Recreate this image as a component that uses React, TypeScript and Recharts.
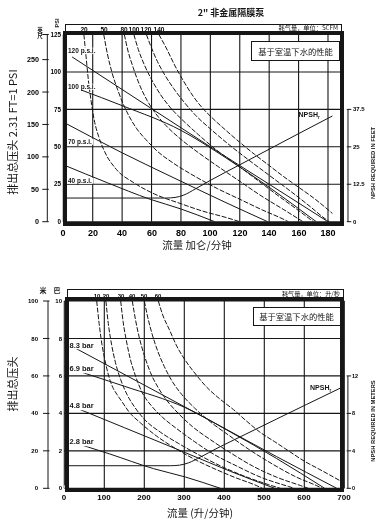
import React from "react";
import {
  ComposedChart,
  Line,
  XAxis,
  YAxis,
  CartesianGrid,
  ReferenceLine,
} from "recharts";

type Pt = [number, number];

// ---------- top panel: flow in US gpm, head in psi ----------
const gpmTicks = [0, 20, 40, 60, 80, 100, 120, 140, 160, 180];
const psiTicks = [0, 25, 50, 75, 100, 125];
const feetTicks = [0, 50, 100, 150, 200, 250, 288.75];
const npshFeetTicks = [0, 12.5, 25, 37.5];
const scfmLabels = ["20", "50", "80", "100", "120", "140"];

const psi120: Pt[] = [[6, 110], [60, 75.5], [100, 50], [140, 25], [180, 0]];
const psi100: Pt[] = [[12, 88], [40, 77.5], [80, 61], [110, 43], [140, 23], [172, 0]];
const psi70: Pt[] = [[0, 66.5], [40, 46], [80, 27], [110, 13], [139, 0]];
const psi40: Pt[] = [[0, 38], [30, 26], [59, 15], [80, 8.5], [103, 0]];

const scfm20: Pt[] = [[14, 125], [15.5, 110], [17, 95], [19, 80], [21, 68], [24, 57], [28, 47], [36, 35], [48, 26], [62, 18.5], [80, 12], [95, 7], [110, 3], [120, 0]];
const scfm50: Pt[] = [[27.5, 125], [30, 112], [33, 100], [37, 88], [41, 78], [45, 70], [50, 62], [56, 55], [64, 47], [75, 39], [90, 30], [105, 22], [120, 15], [135, 8], [150, 1.5], [153, 0]];
const scfm80: Pt[] = [[41.5, 125], [44, 114], [47.5, 103], [52, 91], [57, 81], [63, 72], [70, 64], [80, 55], [92, 46], [105, 37], [120, 27], [135, 17], [150, 8], [163, 0]];
const scfm100: Pt[] = [[48, 125], [51, 115], [55, 105], [60, 95], [66, 85], [73, 76], [82, 67], [92, 58], [104, 48], [118, 38], [133, 27], [148, 16], [162, 6], [170, 0]];
const scfm120: Pt[] = [[56.5, 125], [60, 116], [64, 107], [69, 98], [75, 89], [82, 80], [90, 71], [100, 62], [112, 52], [125, 42], [140, 31], [155, 20], [168, 10], [178, 2], [181, 0]];
const scfm140: Pt[] = [[65, 125], [70, 116], [76, 104], [82, 93.5], [88.5, 83.5], [95, 75.5], [100, 70.5], [110, 61.5], [120, 53], [130, 45], [140, 37.5], [150, 30], [160, 23], [170, 16], [183, 5.5]];

const npshFeet: Pt[] = [[0, 7.9], [70, 7.9], [76, 8.1], [82, 8.9], [90, 11], [100, 13.8], [120, 19], [140, 24.2], [160, 29.4], [183, 35.3]];

// ---------- bottom panel: flow in l/min, head in metres ----------
const lpmTicks = [0, 100, 200, 300, 400, 500, 600, 700];
const meterTicks = [0, 20, 40, 60, 80, 100];
const barTicks = [0, 2, 4, 6, 8, 10];
const npshMeterTicks = [0, 4, 8, 12];
const lpsLabels = ["10", "20", "30", "40", "50", "60"];

const bar83: Pt[] = [[0, 78], [227, 52], [379, 34.5], [530, 17], [681, 0]];
const bar69: Pt[] = [[0, 65], [50, 61.5], [150, 54.5], [303, 43], [416, 30], [530, 16], [651, 0]];
const bar48: Pt[] = [[0, 45.5], [151, 32.3], [303, 19], [416, 9], [526, 0]];
const bar28: Pt[] = [[0, 26], [114, 18.3], [223, 10.5], [303, 6], [390, 0]];

const lps10: Pt[] = [[81, 100], [87, 88], [94, 77], [102, 68], [111, 60], [121, 54], [132, 50], [145, 46], [161, 41], [190, 35], [230, 28], [280, 21], [330, 15], [380, 10], [430, 5.5], [480, 1.5], [495, 0]];
const lps20: Pt[] = [[104, 100], [110, 88], [118, 77], [128, 67], [141, 58], [157, 50], [177, 43], [204, 36], [240, 30], [285, 24], [335, 18], [390, 12], [450, 6.5], [510, 2], [540, 0]];
const lps30: Pt[] = [[141, 100], [147, 89], [155, 79], [165, 69], [178, 60], [195, 51], [218, 44], [245, 38], [280, 32], [325, 25], [375, 18], [430, 12], [490, 6], [560, 1], [575, 0]];
const lps40: Pt[] = [[170, 100], [178, 90], [188, 80], [200, 71], [215, 62], [234, 54], [256, 47], [285, 40], [320, 33], [365, 26], [415, 19], [470, 12], [530, 6], [590, 1.5], [610, 0]];
const lps50: Pt[] = [[200, 100], [209, 91], [220, 82], [234, 73], [250, 65], [270, 57], [294, 50], [325, 43], [365, 35.5], [410, 28.5], [460, 21], [520, 13], [580, 6], [630, 1.5], [645, 0]];
const lps60: Pt[] = [[235, 100], [247, 92], [262, 85], [281, 76], [302, 68.5], [330, 60.5], [356, 54], [390, 47.5], [423, 42], [455, 36], [489, 30], [525, 25], [564, 19.5], [600, 14.5], [639, 10], [690, 4]];

const npshMeters: Pt[] = [[0, 2.41], [265, 2.41], [288, 2.47], [310, 2.71], [341, 3.35], [379, 4.21], [454, 5.79], [530, 7.38], [606, 8.96], [693, 10.76]];

const FONT = '"Liberation Sans", Arial, sans-serif';
const CJK = '"Noto Sans CJK SC", "Liberation Sans", sans-serif';
const INK = "#161616";

const pts = (a: Pt[]) => a.map(([x, y]) => ({ x, y }));
const anchorPoint = [{ x: 0, y: 0 }];

const topPressure = [psi120, psi100, psi70, psi40];
const topAir = [scfm20, scfm50, scfm80, scfm100, scfm120, scfm140];
const botPressure = [bar83, bar69, bar48, bar28];
const botAir = [lps10, lps20, lps30, lps40, lps50, lps60];

const labelProps = {
  fontWeight: 700,
  fontFamily: FONT,
  fill: "#000",
  stroke: "none",
};

// plain tick label
function mkTick(size: number, anchor: "start" | "middle" | "end", dyEm: number, fmt?: (v: number, i: number) => string) {
  return function Tick(p: any) {
    const label = fmt ? fmt(p.payload.value, p.index) : String(p.payload.value);
    return (
      <text x={Math.round(p.x)} y={p.y} dy={`${dyEm}em`} textAnchor={anchor} fontSize={size} {...labelProps}>
        {label}
      </text>
    );
  };
}

// left outer axis: short tick across the axis line plus label
function mkOuterTick(size: number, gap: number, maxLabel: number) {
  return function OuterTick(p: any) {
    const v = p.payload.value as number;
    return (
      <g>
        <line x1={p.x - 5} x2={p.x + 1.5} y1={p.y} y2={p.y} stroke={INK} strokeWidth={1} />
        {v <= maxLabel && (
          <text x={Math.round(p.x - gap)} y={p.y} dy="0.35em" textAnchor="end" fontSize={size} {...labelProps}>
            {String(v)}
          </text>
        )}
      </g>
    );
  };
}

// right NPSH axis tick plus label
function mkNpshTick(lineDx: number, textDx: number, size: number) {
  return function NpshTick(p: any) {
    return (
      <g>
        <line x1={p.x + lineDx - 1.5} x2={p.x + lineDx + 3} y1={p.y} y2={p.y} stroke={INK} strokeWidth={1} />
        <text x={Math.round(p.x + textDx)} y={p.y} dy="0.35em" fontSize={size} {...labelProps}>
          {String(p.payload.value)}
        </text>
      </g>
    );
  };
}

function Txt({
  x,
  y,
  size,
  children,
  anchor = "start",
  bold = false,
  font = FONT,
  bg,
}: {
  x: number;
  y: number;
  size: number;
  children: React.ReactNode;
  anchor?: "start" | "middle" | "end";
  bold?: boolean;
  font?: string;
  bg?: string;
}) {
  const tx = anchor === "start" ? "0" : anchor === "middle" ? "-50%" : "-100%";
  return (
    <div
      style={{
        position: "absolute",
        left: x,
        top: y,
        transform: `translate(${tx}, -50%)`,
        fontSize: size,
        fontWeight: bold ? 700 : 400,
        fontFamily: font,
        lineHeight: 1,
        whiteSpace: "nowrap",
        color: INK,
        background: bg,
        padding: bg ? "0 1px" : 0,
      }}
    >
      {children}
    </div>
  );
}

function VTxt({ x, y, size, children, bold = false, font = FONT }: { x: number; y: number; size: number; children: React.ReactNode; bold?: boolean; font?: string }) {
  return (
    <div
      style={{
        position: "absolute",
        left: x,
        top: y,
        transform: "translate(-50%, -50%) rotate(-90deg)",
        fontSize: size,
        fontWeight: bold ? 700 : 400,
        fontFamily: font,
        lineHeight: 1,
        whiteSpace: "nowrap",
        color: INK,
      }}
    >
      {children}
    </div>
  );
}

function Box({ left, top, width, height, border }: { left: number; top: number; width: number; height: number; border: number }) {
  return (
    <div
      style={{
        position: "absolute",
        left,
        top,
        width,
        height,
        boxSizing: "border-box",
        border: `${border}px solid ${INK}`,
        pointerEvents: "none",
      }}
    />
  );
}

function NoteBox({ left, top, width, height }: { left: number; top: number; width: number; height: number }) {
  return (
    <div
      style={{
        position: "absolute",
        left,
        top,
        width,
        height,
        boxSizing: "border-box",
        border: `1px solid ${INK}`,
        background: "#fff",
        display: "flex",
        alignItems: "center",
        justifyContent: "center",
        fontFamily: CJK,
        fontSize: 8.3,
        color: INK,
      }}
    >
      基于室温下水的性能
    </div>
  );
}

function TopChart() {
  const airTicks = topAir.map((c) => c[0][0]);
  return (
    <ComposedChart width={382} height={250} margin={{ top: 20, right: 0, bottom: 0, left: 0 }}>
      <CartesianGrid stroke={INK} strokeWidth={1.1} xAxisId={0} yAxisId={0} />
      <XAxis xAxisId={0} dataKey="x" type="number" domain={[0, 190]} ticks={gpmTicks} interval={0} allowDataOverflow height={28.3} axisLine={false} tickLine={false} tickSize={0} tickMargin={8} tick={mkTick(9, "middle", 0.71)} />
      <XAxis xAxisId="air" dataKey="x" orientation="top" type="number" domain={[0, 190]} ticks={airTicks} interval={0} allowDataOverflow height={14.5} axisLine={false} tickLine={false} tickSize={0} tickMargin={3} tick={mkTick(6.5, "middle", 0, (_v, i) => scfmLabels[i])} />
      <YAxis yAxisId={0} type="number" domain={[0, 125]} ticks={psiTicks} interval={0} allowDataOverflow width={16} axisLine={false} tickLine={false} tickSize={0} tickMargin={2} tick={mkTick(6.3, "end", 0.35)} />
      <YAxis yAxisId="ft" type="number" domain={[0, 288.75]} ticks={feetTicks} interval={0} allowDataOverflow width={47.3} axisLine={{ stroke: INK }} tickLine={false} tickSize={0} tickMargin={0} tick={mkOuterTick(7.2, 8.5, 250)} />
      <YAxis yAxisId="npsh" orientation="right" type="number" domain={[0, 62.5]} ticks={npshFeetTicks} interval={0} allowDataOverflow width={39.3} axisLine={false} tickLine={false} tickSize={0} tickMargin={0} tick={mkNpshTick(5.6, 10, 6)} />
      <ReferenceLine xAxisId={0} yAxisId="npsh" segment={[{ x: 193.6, y: 0 }, { x: 193.6, y: 37.5 }]} ifOverflow="visible" stroke={INK} strokeWidth={1} />
      <Line data={anchorPoint} dataKey="y" xAxisId="air" yAxisId="ft" stroke="none" dot={false} legendType="none" isAnimationActive={false} />
      {topPressure.map((c, i) => (
        <Line key={"p" + i} data={pts(c)} dataKey="y" xAxisId={0} yAxisId={0} type="monotone" dot={false} stroke={INK} strokeWidth={1} isAnimationActive={false} />
      ))}
      {topAir.map((c, i) => (
        <Line key={"a" + i} data={pts(c)} dataKey="y" xAxisId={0} yAxisId={0} type="monotone" dot={false} stroke={INK} strokeWidth={1} strokeDasharray="5 1.6" isAnimationActive={false} />
      ))}
      <Line data={pts(npshFeet)} dataKey="y" xAxisId={0} yAxisId="npsh" type="monotone" dot={false} stroke={INK} strokeWidth={1} isAnimationActive={false} />
    </ComposedChart>
  );
}

function BottomChart() {
  const airTicks = botAir.map((c) => c[0][0]);
  return (
    <ComposedChart width={382} height={265} margin={{ top: 27, right: 0, bottom: 0, left: 0 }}>
      <CartesianGrid stroke={INK} strokeWidth={1.1} xAxisId={0} yAxisId={0} />
      <XAxis xAxisId={0} dataKey="x" type="number" domain={[0, 700]} ticks={lpmTicks} interval={0} allowDataOverflow height={36.7} axisLine={false} tickLine={false} tickSize={0} tickMargin={6.5} tick={mkTick(8, "middle", 0.71)} />
      <XAxis xAxisId="air" dataKey="x" orientation="top" type="number" domain={[0, 700]} ticks={airTicks} interval={0} allowDataOverflow height={14} axisLine={false} tickLine={false} tickSize={0} tickMargin={3} tick={mkTick(6, "middle", 0, (_v, i) => lpsLabels[i])} />
      <YAxis yAxisId={0} type="number" domain={[0, 10]} ticks={barTicks} interval={0} allowDataOverflow width={16.3} axisLine={false} tickLine={false} tickSize={0} tickMargin={2.3} tick={mkTick(6, "end", 0.35)} />
      <YAxis yAxisId="m" type="number" domain={[0, 100]} ticks={meterTicks} interval={0} allowDataOverflow width={48} axisLine={{ stroke: INK }} tickLine={false} tickSize={0} tickMargin={0} tick={mkOuterTick(6, 10.5, 100)} />
      <YAxis yAxisId="npsh" orientation="right" type="number" domain={[0, 20]} ticks={npshMeterTicks} interval={0} allowDataOverflow width={37.7} axisLine={false} tickLine={false} tickSize={0} tickMargin={0} tick={mkNpshTick(3.8, 8, 5.5)} />
      <ReferenceLine xAxisId={0} yAxisId="npsh" segment={[{ x: 709, y: 0 }, { x: 709, y: 12 }]} ifOverflow="visible" stroke={INK} strokeWidth={1} />
      <Line data={anchorPoint} dataKey="y" xAxisId="air" yAxisId={0} stroke="none" dot={false} legendType="none" isAnimationActive={false} />
      {botPressure.map((c, i) => (
        <Line key={"p" + i} data={pts(c)} dataKey="y" xAxisId={0} yAxisId="m" type="monotone" dot={false} stroke={INK} strokeWidth={1} isAnimationActive={false} />
      ))}
      {botAir.map((c, i) => (
        <Line key={"a" + i} data={pts(c)} dataKey="y" xAxisId={0} yAxisId="m" type="monotone" dot={false} stroke={INK} strokeWidth={1} strokeDasharray="5 1.6" isAnimationActive={false} />
      ))}
      <Line data={pts(npshMeters)} dataKey="y" xAxisId={0} yAxisId="npsh" type="monotone" dot={false} stroke={INK} strokeWidth={1} isAnimationActive={false} />
    </ComposedChart>
  );
}

export default function App() {
  return (
    <div style={{ position: "absolute", left: 0, top: 0, width: 382, height: 525, background: "#fff", overflow: "hidden" }}>
      <div style={{ position: "absolute", left: 0, top: 0, willChange: "transform" }}>
        <TopChart />
      </div>
      <div style={{ position: "absolute", left: 0, top: 260, willChange: "transform" }}>
        <BottomChart />
      </div>

      {/* frames, notes and titles, on their own transparent layer */}
      <div style={{ position: "absolute", left: 0, top: 0, width: 382, height: 525, willChange: "transform" }}>
        <Txt x={231} y={12} size={9} anchor="middle" bold font={CJK}>2" 非金属隔膜泵</Txt>
        <Box left={64.5} top={24} width={277} height={9} border={1} />
        <Box left={63} top={31} width={281} height={195} border={4} />
        <Txt x={338} y={28.3} size={6.2} anchor="end" font={CJK}>耗气量，单位：SCFM</Txt>
        <NoteBox left={251} top={40.5} width={89} height={20} />
        <Txt x={67} y={50.7} size={6.5} bold bg="#fff">120 p.s.i.</Txt>
        <Txt x={67} y={86.7} size={6.5} bold bg="#fff">100 p.s.i.</Txt>
        <Txt x={67} y={141.7} size={6.5} bold bg="#fff">70 p.s.i.</Txt>
        <Txt x={67} y={180.7} size={6.5} bold bg="#fff">40 p.s.i.</Txt>
        <Txt x={298.5} y={116} size={7} bold>NPSH<sub style={{ fontSize: 4.5 }}>r</sub></Txt>
        <Txt x={40} y={30.5} size={5.5} anchor="middle" bold font={CJK}>英</Txt>
        <Txt x={40} y={37} size={5.5} anchor="middle" bold font={CJK}>尺</Txt>
        <VTxt x={57.5} y={23} size={5.5} bold>PSI</VTxt>
        <VTxt x={12} y={132} size={11} font={CJK}>排出总压头 2.31 FT=1 PSI</VTxt>
        <VTxt x={374} y={163} size={5.8} bold>NPSH REQUIRED IN FEET</VTxt>
        <Txt x={197} y={245} size={10.5} anchor="middle" font={CJK}>流量 加仑/分钟</Txt>

        <Box left={66.5} top={289.3} width={277} height={10} border={1} />
        <Box left={64.5} top={297} width={279} height={195} border={4} />
        <Txt x={340} y={294} size={6.2} anchor="end" font={CJK}>耗气量，单位：升/秒</Txt>
        <NoteBox left={252.5} top={306.5} width={88} height={19} />
        <Txt x={68.5} y={345.7} size={7.5} bold bg="#fff">8.3 bar</Txt>
        <Txt x={68.5} y={369} size={7.5} bold bg="#fff">6.9 bar</Txt>
        <Txt x={68.5} y={406} size={7.5} bold bg="#fff">4.8 bar</Txt>
        <Txt x={68.5} y={442.3} size={7.5} bold bg="#fff">2.8 bar</Txt>
        <Txt x={310} y={389} size={7} bold>NPSH<sub style={{ fontSize: 4.5 }}>r</sub></Txt>
        <Txt x={43} y={289.5} size={7} anchor="middle" bold font={CJK}>米</Txt>
        <Txt x={57} y={289.5} size={7} anchor="middle" bold font={CJK}>巴</Txt>
        <VTxt x={12} y={384} size={11} font={CJK}>排出总压头</VTxt>
        <VTxt x={374} y={421} size={5.8} bold>NPSH REQUIRED IN METERS</VTxt>
        <Txt x={200} y={513} size={10.5} anchor="middle" font={CJK}>流量 (升/分钟)</Txt>
      </div>
    </div>
  );
}
